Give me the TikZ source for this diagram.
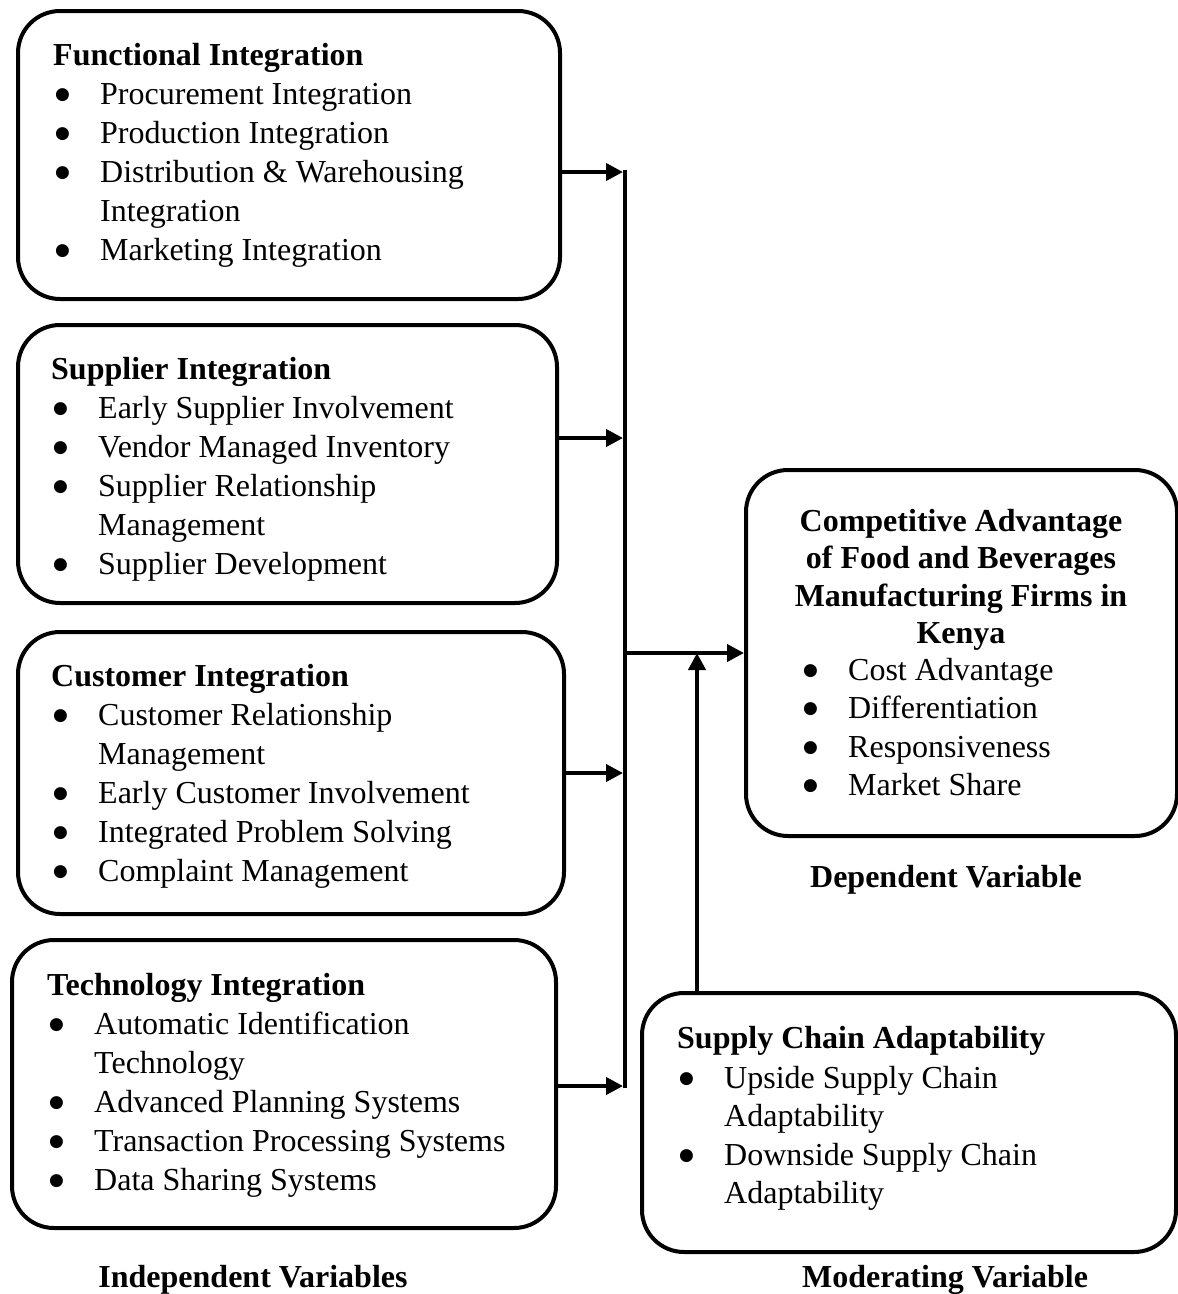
\documentclass[tikz,border=0pt]{standalone}
\usepackage{fontspec}
\setmainfont{Liberation Serif}
\newfontfamily\symf{DejaVu Sans}
\usetikzlibrary{arrows.meta}
\newcommand\fsz{\fontsize{32pt}{39pt}\selectfont}
\newcommand\bul{\makebox[47pt][l]{\hspace{2pt}\raisebox{5pt}{\symf\fontsize{17pt}{17pt}\selectfont ●}}}
\newcommand\ind{\makebox[47pt][l]{}}
\begin{document}
\begin{tikzpicture}[x=1pt,y=-1pt,
  box/.style={draw, line width=4pt, rounded corners=42pt, inner sep=0pt},
  txt/.style={anchor=base west, inner sep=0pt, font=\fsz},
  ttl/.style={anchor=base west, inner sep=0pt, font=\fsz\bfseries},
  ctl/.style={anchor=base, inner sep=0pt, font=\fsz\bfseries},
  arr/.style={line width=4pt, -{Triangle[length=17pt,width=17pt]}},
  bus/.style={line width=4pt}]
\useasboundingbox (0,0) rectangle (1178,1294);

% boxes
\node[box, minimum width=542pt, minimum height=288pt] (b1) at (289,155) {};
\node[box, minimum width=539pt, minimum height=278pt] (b2) at (287.5,464) {};
\node[box, minimum width=546pt, minimum height=282pt] (b3) at (291,773) {};
\node[box, minimum width=544pt, minimum height=288pt] (b4) at (284,1084) {};
\node[box, minimum width=431pt, minimum height=366pt] (b5) at (961.5,653) {};
\node[box, minimum width=534pt, minimum height=259pt] (b6) at (909,1122.5) {};

% box 1
\node[ttl] (b1t) at (53,65) {Functional Integration};
\foreach \t [count=\i] in {{\bul Procurement Integration},{\bul Production Integration},{\bul Distribution \& Warehousing},{\ind Integration},{\bul Marketing Integration}}
  \node[txt] (b1l\i) at (53,{65+39*\i}) {\t};

% box 2
\node[ttl] (b2t) at (51,379) {Supplier Integration};
\foreach \t [count=\i] in {{\bul Early Supplier Involvement},{\bul Vendor Managed Inventory},{\bul Supplier Relationship},{\ind Management},{\bul Supplier Development}}
  \node[txt] (b2l\i) at (51,{379+39*\i}) {\t};

% box 3
\node[ttl] (b3t) at (51,686) {Customer Integration};
\foreach \t [count=\i] in {{\bul Customer Relationship},{\ind Management},{\bul Early Customer Involvement},{\bul Integrated Problem Solving},{\bul Complaint Management}}
  \node[txt] (b3l\i) at (51,{686+39*\i}) {\t};

% box 4
\node[ttl] (b4t) at (47,995) {Technology Integration};
\foreach \t [count=\i] in {{\bul Automatic Identification},{\ind Technology},{\bul Advanced Planning Systems},{\bul Transaction Processing Systems},{\bul Data Sharing Systems}}
  \node[txt] (b4l\i) at (47,{995+39*\i}) {\t};

% box 5
\foreach \t [count=\i from 0] in {{Competitive Advantage},{of Food and Beverages},{Manufacturing Firms in},{Kenya}}
  \node[ctl] (b5t\i) at (961,{531+37.5*\i}) {\t};
\foreach \t [count=\i from 0] in {{\bul Cost Advantage},{\bul Differentiation},{\bul Responsiveness},{\bul Market Share}}
  \node[txt] (b5l\i) at (801,{680+38.5*\i}) {\t};

% box 6
\node[ttl] (b6t) at (677,1048) {Supply Chain Adaptability};
\foreach \t [count=\i from 0] in {{\bul Upside Supply Chain},{\ind Adaptability},{\bul Downside Supply Chain},{\ind Adaptability}}
  \node[txt] (b6l\i) at (677,{1088+38.5*\i}) {\t};

% labels
\node[ctl] (lind) at (253,1287) {Independent Variables};
\node[ctl] (lmod) at (945,1287) {Moderating Variable};
\node[ctl] (ldep) at (946,887) {Dependent Variable};

% connectors
\coordinate (j1) at (623,172);
\coordinate (j2) at (623,438);
\coordinate (j3) at (623,773);
\coordinate (j4) at (623,1086);
\coordinate (bt) at (625,170);
\coordinate (bb) at (625,1088);
\coordinate (j5) at (625,653);
\coordinate (m) at (697,653);
\draw[bus] (bt) -- (bb);
\draw[arr] (b1.east |- j1) -- (j1);
\draw[arr] (b2.east |- j2) -- (j2);
\draw[arr] (b3.east |- j3) -- (j3);
\draw[arr] (b4.east |- j4) -- (j4);
\draw[arr] (j5) -- (b5.west |- j5);
\draw[arr] (b6.north -| m) -- (m);
\end{tikzpicture}
\end{document}
